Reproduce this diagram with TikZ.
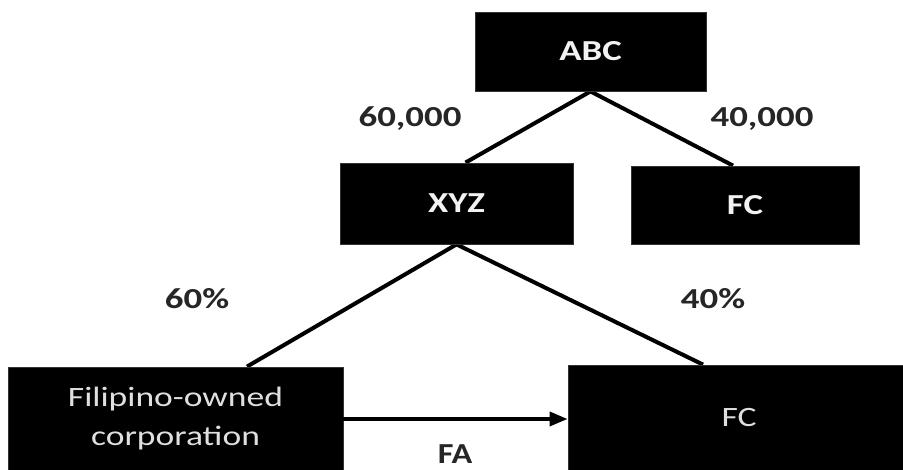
\documentclass[tikz,border=0pt]{standalone}
\usepackage{fontspec}
\setmainfont{Carlito}
\usepackage{graphicx}
\usetikzlibrary{arrows.meta,calc,backgrounds}
\definecolor{labcol}{HTML}{262626}
\definecolor{boxtext}{HTML}{F2F2F2}
\newcommand{\wtext}[1]{\scalebox{1.27}[1]{#1}}
\begin{document}
\begin{tikzpicture}[x=1pt,y=-1pt,
  box/.style={fill=black, draw=black!80, line width=0.8pt, inner sep=0pt, text=boxtext,
    font=\fontsize{29}{33}\selectfont\bfseries},
  lowbox/.style={fill=black, draw=black!80, line width=0.8pt, inner sep=0pt, text=boxtext!92!black,
    font=\fontsize{28}{39}\selectfont, align=center},
  lab/.style={text=labcol, font=\fontsize{29}{33}\selectfont\bfseries, inner sep=0pt},
  conn/.style={line width=4pt, draw=black}]
\useasboundingbox (0,0) rectangle (903,470);
\clip (0,0) rectangle (903,470);
% boxes
\node[box, minimum width=231pt, minimum height=79pt] (abc) at (590.5,51.5) {\wtext{ABC}};
\node[box, minimum width=233pt, minimum height=81pt] (xyz) at (456.5,203.5) {\wtext{XYZ}};
\node[box, minimum width=228pt, minimum height=78pt] (fct) at (745,205) {\wtext{FC}};
\node[lowbox, minimum width=335pt, minimum height=104pt] (fil) at (175.5,419) {\wtext{Filipino-owned}\\\wtext{corporation}};
\node[lowbox, minimum width=342pt, minimum height=105pt] (fcb) at (739,417.5) {\wtext{FC}};
% labels
\node[lab] (l1) at (410,119) {\wtext{60,000}};
\node[lab] (l2) at (762,119) {\wtext{40,000}};
\node[lab] (l3) at (197,299) {\wtext{60\%}};
\node[lab] (l4) at (713,299) {\wtext{40\%}};
\node[lab] (l5) at (455,454.5) {\scalebox{1.18}[1]{FA}};
% connectors
\begin{scope}[on background layer]
\draw[conn] (abc.south) -- ($(xyz.north)+(9,0)$);
\draw[conn] (abc.south) -- ($(fct.north)+(-12,0)$);
\draw[conn] (xyz.south) -- ($(fil.north)+(71.5,0)$);
\draw[conn] (xyz.south) -- ($(fcb.north)+(-36,0)$);
\end{scope}
\draw[conn, line width=3.5pt, -{Triangle[length=18pt,width=14pt]}] (fil.east) -- (fil.east -| fcb.west);
\end{tikzpicture}
\end{document}
